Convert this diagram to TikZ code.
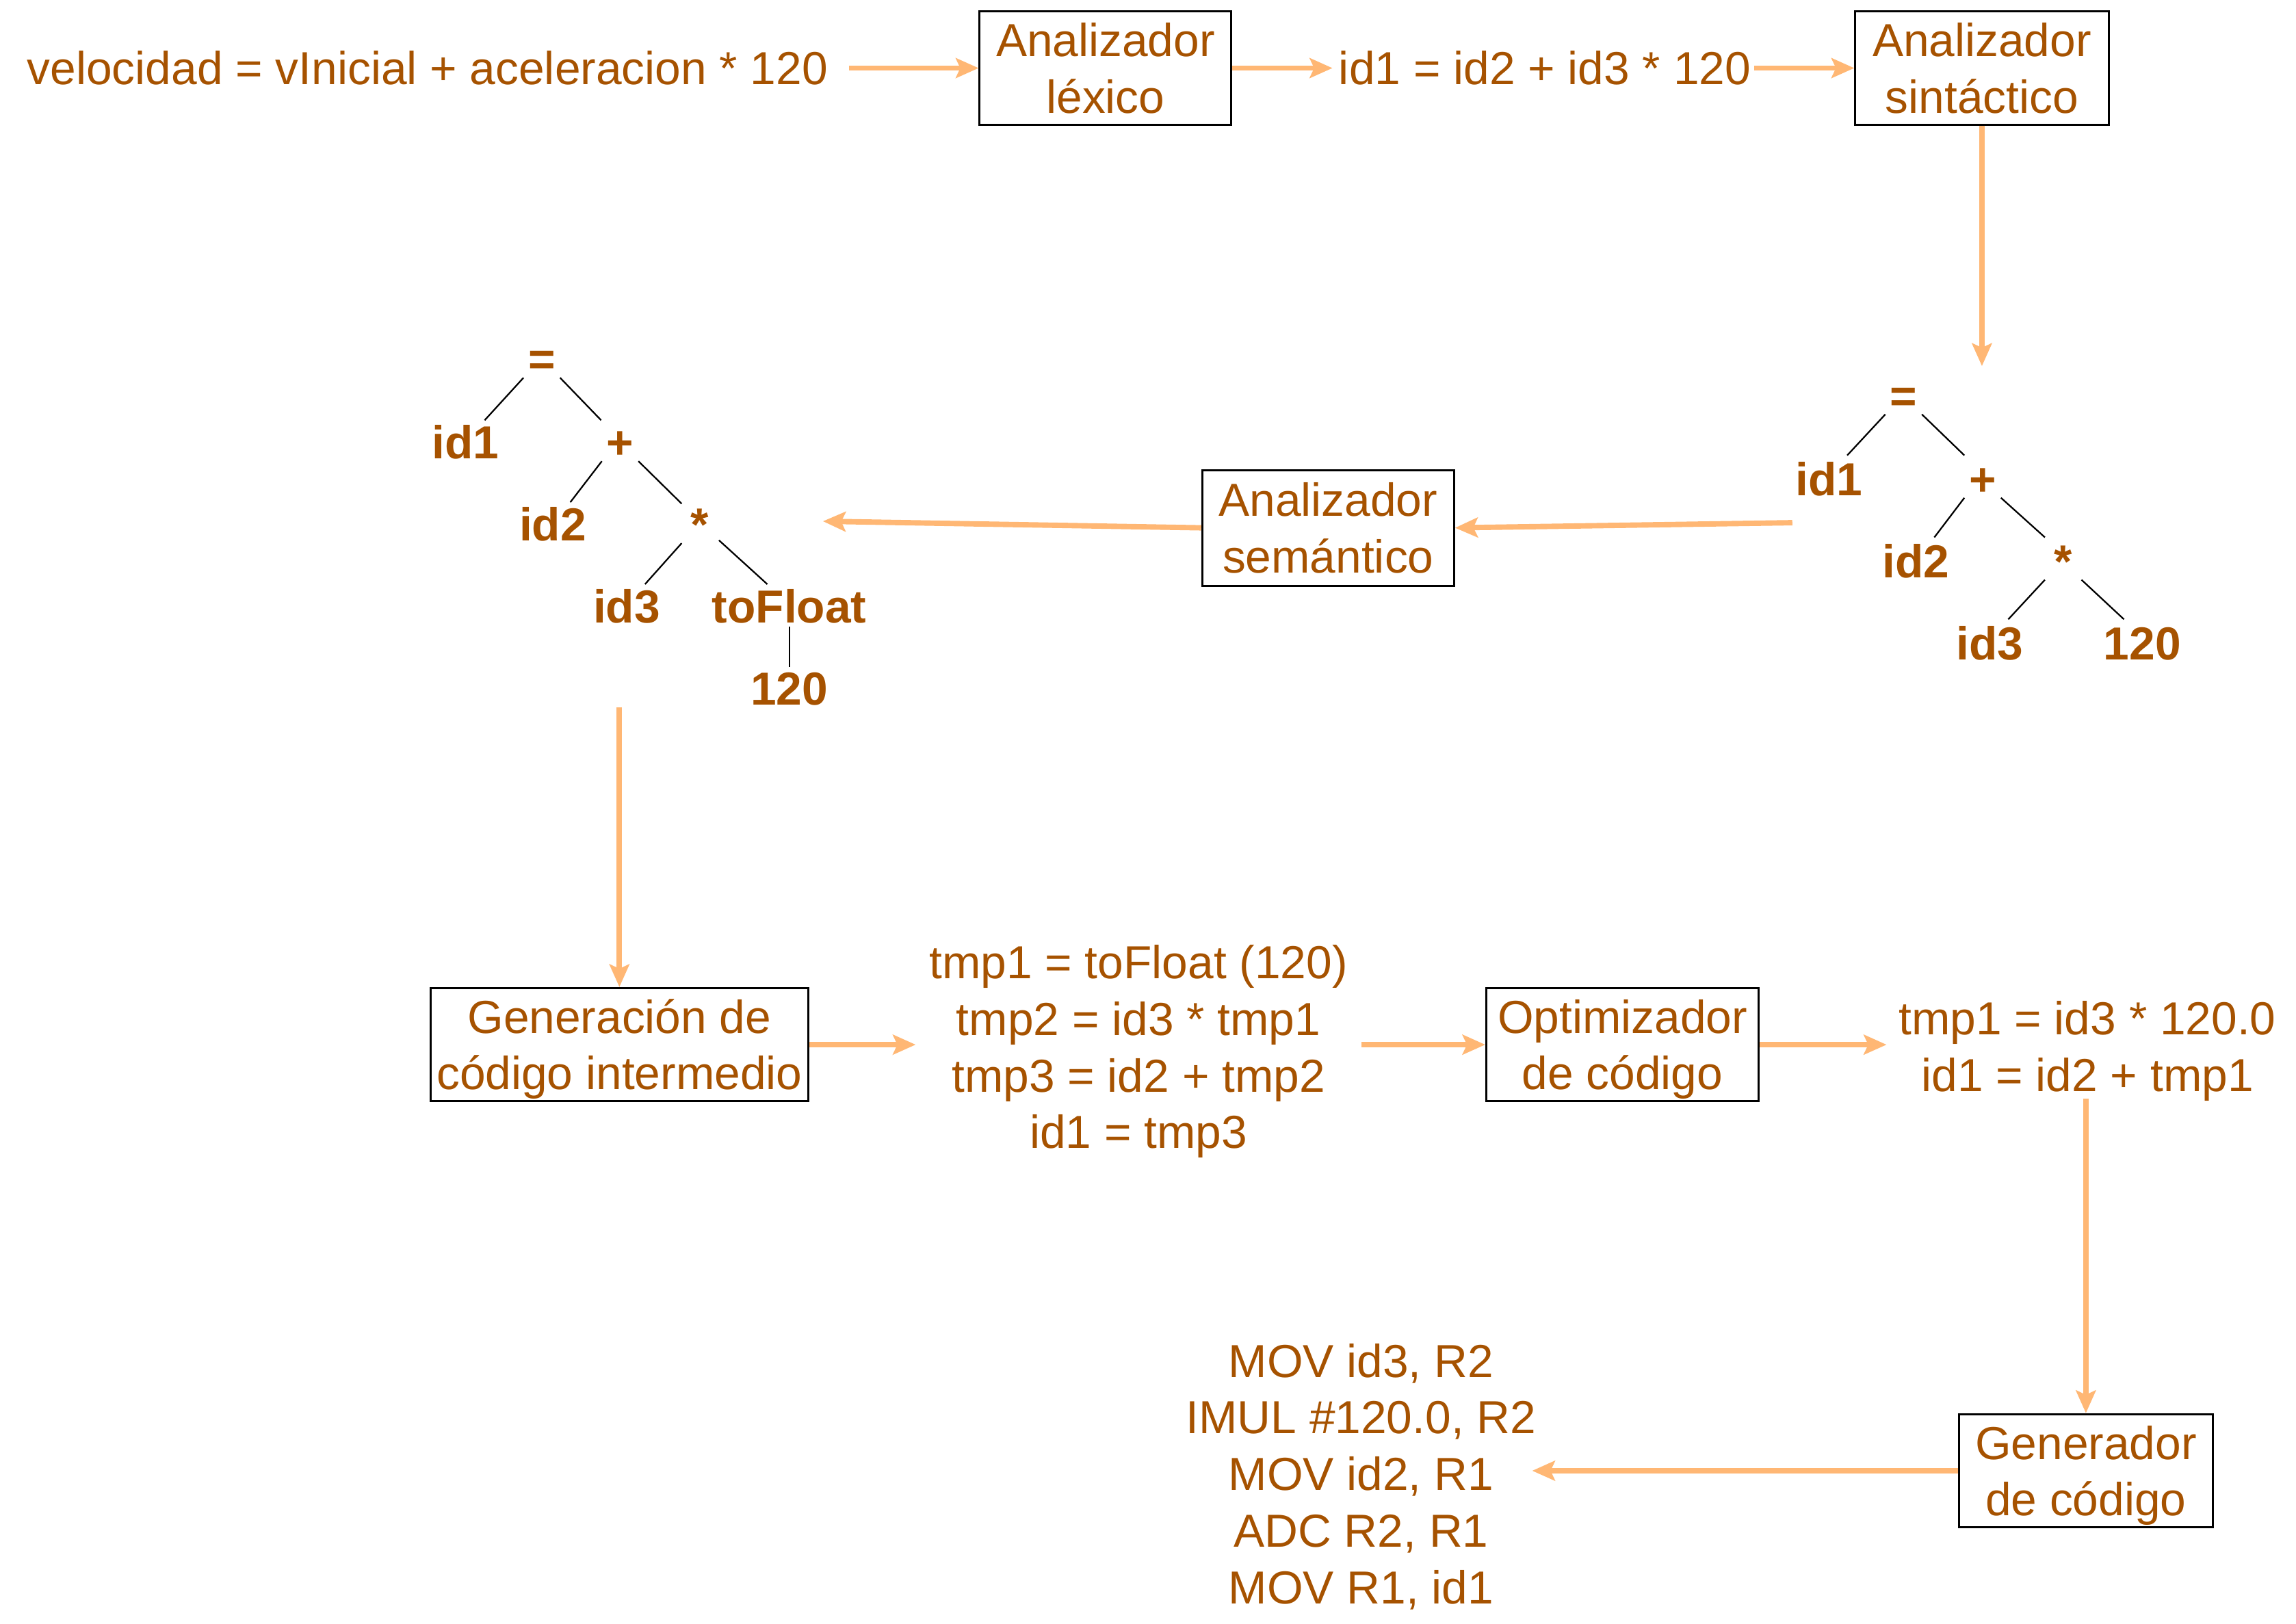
\documentclass[tikz,border=0pt]{standalone}
\usepackage{fontspec}
\setmainfont{Liberation Sans}
\usetikzlibrary{arrows.meta,calc}
\definecolor{txt}{RGB}{166,82,0}
\definecolor{arw}{RGB}{255,183,116}
\newcommand{\ls}{\rule[-4.5pt]{0pt}{22pt}}
\begin{document}
\begin{tikzpicture}[x=0.02cm,y=-0.02cm,
  every node/.style={text=txt, font=\fontsize{18}{22}\selectfont, inner sep=0pt, align=center},
  stage/.style={draw=black, line width=0.8pt, fill=white, minimum height=1.54cm},
  tn/.style={font=\fontsize{18}{22}\selectfont\bfseries},
  edge/.style={draw=black, line width=0.6pt},
  arr/.style={draw=arw, line width=2.1pt, -{Stealth[length=0.31cm,width=0.27cm,inset=0.06cm]}}]
\useasboundingbox (0,0) rectangle (1568,1109);

% top row
\node (src) at (292,46.5) {\ls velocidad = vInicial + aceleracion * 120};
\node[stage, minimum width=3.44cm] (lex) at (755,46.5) {\ls Analizador\\\ls léxico};
\node (tok) at (1055,46.5) {\ls id1 = id2 + id3 * 120};
\node[stage, minimum width=3.46cm] (syn) at (1353.5,46.5) {\ls Analizador\\\ls sintáctico};

% right tree
\node[tn] (r0) at (1300,270) {\ls =};
\node[tn] (r1) at (1249,327) {\ls id1};
\node[tn] (r2) at (1354,327) {\ls +};
\node[tn] (r3) at (1308.5,383) {\ls id2};
\node[tn] (r4) at (1409,383) {\ls *};
\node[tn] (r5) at (1359,439) {\ls id3};
\node[tn] (r6) at (1463,439) {\ls 120};
\draw[edge] ([shift={(-12.5,13)}]r0.center) -- ([shift={(12.5,-16)}]r1.center);
\draw[edge] ([shift={(12.5,13)}]r0.center) -- ([shift={(-12.5,-16)}]r2.center);
\draw[edge] ([shift={(-12.5,13)}]r2.center) -- ([shift={(12.5,-16)}]r3.center);
\draw[edge] ([shift={(12.5,13)}]r2.center) -- ([shift={(-12.5,-16)}]r4.center);
\draw[edge] ([shift={(-12.5,13)}]r4.center) -- ([shift={(12.5,-16)}]r5.center);
\draw[edge] ([shift={(12.5,13)}]r4.center) -- ([shift={(-12.5,-16)}]r6.center);

% semantic
\node[stage, minimum width=3.44cm, minimum height=1.58cm] (sem) at (907,360.5) {\ls Analizador\\\ls semántico};

% left tree
\node[tn] (l0) at (370,245) {\ls =};
\node[tn] (l1) at (318,302) {\ls id1};
\node[tn] (l2) at (423.5,302) {\ls +};
\node[tn] (l3) at (377.5,358) {\ls id2};
\node[tn] (l4) at (478,358) {\ls *};
\node[tn] (l5) at (428,414) {\ls id3};
\node[tn] (l6) at (539,414) {\ls toFloat};
\node[tn] (l7) at (539,470) {\ls 120};
\draw[edge] ([shift={(-12.5,13)}]l0.center) -- ([shift={(13,-15)}]l1.center);
\draw[edge] ([shift={(12.5,13)}]l0.center) -- ([shift={(-13,-15)}]l2.center);
\draw[edge] ([shift={(-12.5,13)}]l2.center) -- ([shift={(12,-15)}]l3.center);
\draw[edge] ([shift={(12.5,13)}]l2.center) -- ([shift={(-12.5,-14)}]l4.center);
\draw[edge] ([shift={(-12.5,13)}]l4.center) -- ([shift={(12.5,-15)}]l5.center);
\draw[edge] ([shift={(13,11)}]l4.center) -- ([shift={(-15,-15)}]l6.center);
\draw[edge] ([shift={(0,14)}]l6.center) -- ([shift={(0,-14.5)}]l7.center);

% bottom rows
\node[stage, minimum width=5.16cm] (gen) at (423,713.5) {\ls Generación de\\\ls código intermedio};
\node (code1) at (777.5,715) {\ls tmp1 = toFloat (120)\\\ls tmp2 = id3 * tmp1\\\ls tmp3 = id2 + tmp2\\\ls id1 = tmp3};
\node[stage, minimum width=3.72cm] (opt) at (1108,713.5) {\ls Optimizador\\\ls de código};
\node (code2) at (1425.5,714.5) {\ls tmp1 = id3 * 120.0\\\ls id1 = id2 + tmp1};
\node[stage, minimum width=3.46cm] (gc) at (1424.5,1004.5) {\ls Generador\\\ls de código};
\node (code3) at (929.5,1006.5) {\ls MOV id3, R2\\\ls IMUL \#120.0, R2\\\ls MOV id2, R1\\\ls ADC R2, R1\\\ls MOV R1, id1};

% connectors
\coordinate (rtop) at (1353.5,250);
\coordinate (rout) at (1224,357);
\coordinate (lin) at (562,356);
\coordinate (lout) at (423,483);
\draw[arr] ([shift={(14,0)}]src.east) -- (lex.west);
\draw[arr] (lex.east) -- ([shift={(-4,0)}]tok.west);
\draw[arr] ([shift={(2,0)}]tok.east) -- (syn.west);
\draw[arr] (syn.south) -- (rtop);
\draw[arr] (rout) -- (sem.east);
\draw[arr] (sem.west) -- (lin);
\draw[arr] (lout) -- (gen.north);
\draw[arr] (gen.east) -- ($(gen.east -| code1.west)+(-9,0)$);
\draw[arr] ($(opt.west -| code1.east)+(9,0)$) -- (opt.west);
\draw[arr] (opt.east) -- ($(opt.east -| code2.west)+(-8,0)$);
\draw[arr] ($(gc.north |- code2.south)+(0,-3)$) -- (gc.north);
\draw[arr] (gc.west) -- ($(gc.west -| code3.east)+(-3,0)$);
\end{tikzpicture}
\end{document}
